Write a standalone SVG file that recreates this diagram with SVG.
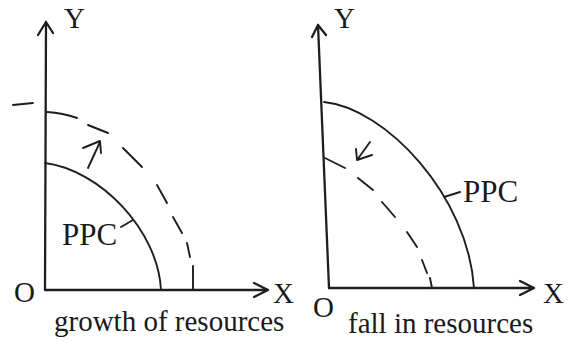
<svg xmlns="http://www.w3.org/2000/svg" width="574" height="341" viewBox="0 0 574 341">
<style>
.ax{fill:none;stroke:#1e1e1e;stroke-width:2.3;stroke-linecap:round;stroke-linejoin:round}
.cv{fill:none;stroke:#1e1e1e;stroke-width:1.9;stroke-linecap:round;stroke-linejoin:round}
.ds{fill:none;stroke:#1e1e1e;stroke-width:1.9;stroke-linecap:round}
text{fill:#1a1a1a}
</style>
<rect width="574" height="341" fill="#fff"/>
<g id="left-panel" font-family="'Liberation Serif', 'DejaVu Serif', serif">
  <g id="left-axes">
    <path class="ax" d="M45,290 L46,22 M38,35 L46,22 L53,33"/>
    <path class="ax" d="M45,290 L268,290 M254,283 L268,290 L254,297"/>
  </g>
  <path id="left-ppc" class="cv" d="M45,163 C100,170 158,230 161,290"/>
  <g id="left-dashed">
    <path class="ds" d="M13,105 L33,103 M47,112 Q63,113 77,118 M88,125 L108,133 M123,148 L142,167 M157,185 L167,203 M173,217 L182,233 M187,243 L190,257 M193,266 L193,290"/>
  </g>
  <path id="left-arrow" class="cv" d="M88,168 L100,142 M83,148 L100,141 L101,153"/>
  <path class="cv" d="M121,227 L133,220"/>
  <text x="62" y="245" font-size="31">PPC</text>
  <text x="64" y="28" font-size="29">Y</text>
  <text x="14" y="302" font-size="29">O</text>
  <text x="273" y="303" font-size="29">X</text>
  <text x="54" y="331" font-size="29">growth of resources</text>
</g>
<g id="right-panel" font-family="'Liberation Serif', 'DejaVu Serif', serif">
  <g id="right-axes">
    <path class="ax" d="M329,288 L318,25 M312,37 L318,25 L326,35"/>
    <path class="ax" d="M329,288 L534,288 M520,281 L534,288 L520,295"/>
  </g>
  <path id="right-ppc" class="cv" d="M324,102 C385,108 468,195 474,288"/>
  <g id="right-dashed">
    <path class="ds" d="M325,158 L345,168 M358,178 L373,190 M382,202 L395,217 M407,232 L417,247 M422,260 L427,273 M430,278 L432,288"/>
  </g>
  <path id="right-arrow" class="cv" d="M370,142 L357,160 M356,149 L357,160 L372,155"/>
  <path class="cv" d="M444,197 L460,192"/>
  <text x="463" y="202" font-size="31">PPC</text>
  <text x="334" y="28" font-size="29">Y</text>
  <text x="313" y="317" font-size="29">O</text>
  <text x="543" y="303" font-size="29">X</text>
  <text x="348" y="333" font-size="29">fall in resources</text>
</g>
</svg>
